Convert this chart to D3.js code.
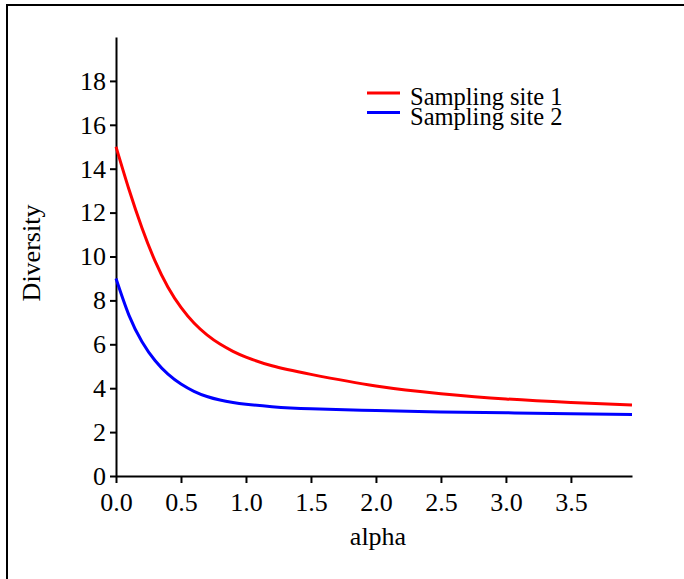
<!DOCTYPE html>
<html>
<head>
<meta charset="utf-8">
<script src="https://cdn.jsdelivr.net/npm/d3@7"></script>
<style>
  html, body { margin: 0; padding: 0; background: #fff; }
  svg { display: block; }
</style>
</head>
<body>
<div id="chart"></div>
<script>
// values
const ALPHA = [0, 0.1, 0.2, 0.3, 0.4, 0.5, 0.6, 0.7, 0.8, 0.9, 1.0, 1.2, 1.5, 2.0, 2.5, 3.0, 3.5, 3.97];
const SITE1 = [15, 13.05, 11.3, 9.8, 8.6, 7.68, 6.97, 6.43, 6.01, 5.68, 5.42, 5.02, 4.63, 4.1, 3.75, 3.51, 3.35, 3.23];
const SITE2 = [9, 7.32, 6.12, 5.26, 4.64, 4.19, 3.86, 3.62, 3.46, 3.35, 3.27, 3.16, 3.06, 2.98, 2.92, 2.88, 2.84, 2.8];
const SERIES = ["Sampling site 1", "Sampling site 2"];
const COLORS = ["#ff0000", "#0000ff"];
const Y_TICKS = [0, 2, 4, 6, 8, 10, 12, 14, 16, 18];
const X_TICKS = [0, 0.5, 1.0, 1.5, 2.0, 2.5, 3.0, 3.5];

const W = 684, H = 579;
const margin = { top: 37, right: 52, bottom: 103, left: 116 };
const w = W - margin.left - margin.right;
const h = H - margin.top - margin.bottom;
const FONT = "'Liberation Serif', 'Times New Roman', serif";

const svg = d3.select("#chart").append("svg")
  .attr("width", W).attr("height", H)
  .style("font-family", FONT);

// partial frame (top + left edges)
svg.append("line").attr("x1", 6).attr("x2", W).attr("y1", 5).attr("y2", 5)
  .attr("stroke", "#000").attr("stroke-width", 2);
svg.append("line").attr("x1", 7).attr("x2", 7).attr("y1", 4).attr("y2", H)
  .attr("stroke", "#000").attr("stroke-width", 2);

const g = svg.append("g").attr("transform", `translate(${margin.left},${margin.top})`);

const x = d3.scaleLinear().domain([0, 3.97]).range([0, w]);
const y = d3.scaleLinear().domain([0, 20]).range([h, 0]);

const xAxis = g.append("g").attr("transform", `translate(0,${h})`)
  .call(d3.axisBottom(x).tickValues(X_TICKS).tickFormat(d3.format(".1f"))
    .tickSize(7).tickSizeOuter(0).tickPadding(10));
const yAxis = g.append("g")
  .call(d3.axisLeft(y).tickValues(Y_TICKS).tickFormat(d3.format("d"))
    .tickSize(6).tickSizeOuter(0).tickPadding(4));

[xAxis, yAxis].forEach(a => {
  a.select(".domain").attr("stroke", "#000").attr("stroke-width", 2);
  a.selectAll(".tick line").attr("stroke", "#000").attr("stroke-width", 2);
  a.selectAll("text").style("font-family", FONT).style("font-size", "26px").attr("fill", "#000");
});

// curves
const line = d3.line().x(d => x(d[0])).y(d => y(d[1])).curve(d3.curveNatural);
[SITE1, SITE2].forEach((vals, i) => {
  g.append("path")
    .datum(ALPHA.map((a, j) => [a, vals[j]]))
    .attr("fill", "none")
    .attr("stroke", COLORS[i])
    .attr("stroke-width", 3)
    .attr("d", line);
});

// axis titles
svg.append("text").attr("x", 378).attr("y", 545).attr("text-anchor", "middle")
  .style("font-size", "26px").text("alpha");
svg.append("text").attr("transform", "translate(40,253) rotate(-90)")
  .attr("text-anchor", "middle").style("font-size", "26px").text("Diversity");

// legend
const legend = svg.append("g").attr("transform", "translate(367,93)");
SERIES.forEach((s, i) => {
  const row = legend.append("g").attr("transform", `translate(0,${i * 19.5})`);
  row.append("line").attr("x1", 0).attr("x2", 33).attr("y1", 0).attr("y2", 0)
    .attr("stroke", COLORS[i]).attr("stroke-width", 3);
  row.append("text").attr("x", 43).attr("y", 12).style("font-size", "24.5px").text(s);
});
</script>
</body>
</html>
